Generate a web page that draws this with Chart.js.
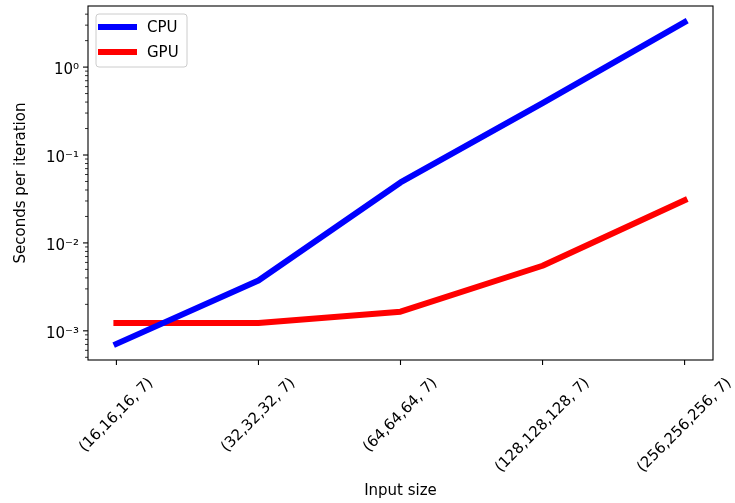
<!DOCTYPE html>
<html>
<head>
<meta charset="utf-8">
<script src="https://cdn.jsdelivr.net/npm/chart.js@4/dist/chart.umd.min.js"></script>
<style>
  html, body { margin: 0; padding: 0; background: #ffffff; }
  #wrap { width: 735px; height: 503px; }
</style>
</head>
<body>
<div id="wrap"><canvas id="chart" width="735" height="503"></canvas></div>
<script>
// Benchmark: seconds per iteration for each input size
const inputSizes = ['(16,16,16, 7)', '(32,32,32, 7)', '(64,64,64, 7)', '(128,128,128, 7)', '(256,256,256, 7)'];
const cpuSeconds = [7.1e-4, 3.73e-3, 0.0487, 0.39, 3.25];
const gpuSeconds = [1.23e-3, 1.23e-3, 1.65e-3, 5.5e-3, 0.0305];
const yTickValues = [1e-3, 1e-2, 1e-1, 1];
const yTickLabels = ['10⁻³', '10⁻²', '10⁻¹', '10⁰'];

const FONT = "'DejaVu Sans', sans-serif";
const FONT_SIZE = 15;

// 5% padding in log space around the data, like a default log axis
const allVals = cpuSeconds.concat(gpuSeconds).map(v => Math.log10(v));
const lo = Math.min(...allVals), hi = Math.max(...allVals);
const pad = (hi - lo) * 0.05;
const yMin = Math.pow(10, lo - pad);
const yMax = Math.pow(10, hi + pad);

function toPoints(values) {
  return values.map((v, i) => ({ x: i, y: v }));
}

function strokeLine(ctx, x1, y1, x2, y2) {
  ctx.beginPath();
  ctx.moveTo(x1, y1);
  ctx.lineTo(x2, y2);
  ctx.stroke();
}

// Frame, tick marks, rotated category labels and the legend box
const axesDecor = {
  id: 'axesDecor',
  afterDraw(chart) {
    const { ctx, chartArea: a, scales } = chart;
    const xs = scales.x, ys = scales.y;
    ctx.save();
    ctx.strokeStyle = '#000';

    // major ticks
    ctx.lineWidth = 1.1;
    inputSizes.forEach((_, i) => {
      const px = xs.getPixelForValue(i);
      strokeLine(ctx, px, a.bottom, px, a.bottom + 5);
    });
    yTickValues.forEach(v => {
      const py = ys.getPixelForValue(v);
      strokeLine(ctx, a.left - 5, py, a.left, py);
    });

    // minor ticks on the log axis
    ctx.lineWidth = 0.8;
    for (let d = -6; d <= 2; d++) {
      for (let k = 2; k <= 9; k++) {
        const v = k * Math.pow(10, d);
        if (v < ys.min || v > ys.max) continue;
        const py = ys.getPixelForValue(v);
        strokeLine(ctx, a.left - 3, py, a.left, py);
      }
    }

    // axes frame
    ctx.lineWidth = 1.1;
    ctx.strokeRect(a.left, a.top, a.right - a.left, a.bottom - a.top);

    // rotated category labels, bounding box centred under each tick
    ctx.font = FONT_SIZE + 'px ' + FONT;
    ctx.fillStyle = '#000';
    ctx.textAlign = 'center';
    ctx.textBaseline = 'middle';
    inputSizes.forEach((label, i) => {
      const px = xs.getPixelForValue(i);
      const w = ctx.measureText(label).width;
      const half = Math.SQRT1_2 * (w + 13.4) / 2;
      ctx.save();
      ctx.translate(px, a.bottom + 16 + half);
      ctx.rotate(-Math.PI / 4);
      ctx.fillText(label, 0, 0);
      ctx.restore();
    });

    // legend
    const lx = a.left + 8, ly = a.top + 8, lw = 91, lh = 53;
    ctx.beginPath();
    ctx.roundRect(lx, ly, lw, lh, 3);
    ctx.fillStyle = 'rgba(255,255,255,0.8)';
    ctx.fill();
    ctx.strokeStyle = '#cccccc';
    ctx.lineWidth = 1;
    ctx.stroke();
    ctx.textAlign = 'left';
    chart.data.datasets.forEach((ds, i) => {
      const ry = ly + 13 + i * 25;
      ctx.strokeStyle = ds.borderColor;
      ctx.lineWidth = ds.borderWidth;
      ctx.lineCap = 'butt';
      strokeLine(ctx, lx + 2, ry, lx + 41, ry);
      ctx.fillStyle = '#000';
      ctx.fillText(ds.label, lx + 51, ry + 1);
    });
    ctx.restore();
  }
};

new Chart(document.getElementById('chart'), {
  type: 'line',
  data: {
    datasets: [
      { label: 'CPU', data: toPoints(cpuSeconds), borderColor: '#0000ff', borderWidth: 6 },
      { label: 'GPU', data: toPoints(gpuSeconds), borderColor: '#ff0000', borderWidth: 6 }
    ]
  },
  options: {
    responsive: false,
    animation: false,
    devicePixelRatio: 1,
    layout: { padding: { left: 0, right: 22, top: 6, bottom: 0 } },
    elements: {
      point: { radius: 0, hoverRadius: 0 },
      line: { tension: 0, borderCapStyle: 'square', borderJoinStyle: 'round', fill: false }
    },
    plugins: { legend: { display: false }, tooltip: { enabled: false } },
    scales: {
      x: {
        type: 'linear',
        min: -0.2,
        max: 4.2,
        grid: { display: false, drawTicks: false },
        border: { display: false },
        ticks: { display: false },
        title: {
          display: true,
          text: 'Input size',
          color: '#000',
          font: { family: FONT, size: FONT_SIZE },
          padding: { top: 0, bottom: 3 }
        },
        afterFit(scale) {
          scale.height = 143;
          scale.paddingLeft = 0;
          scale.paddingRight = 0;
        }
      },
      y: {
        type: 'logarithmic',
        min: yMin,
        max: yMax,
        grid: { display: false, drawTicks: false },
        border: { display: false },
        afterBuildTicks(scale) {
          scale.ticks = yTickValues.map(v => ({ value: v, major: true }));
        },
        ticks: {
          autoSkip: false,
          padding: 9,
          labelOffset: 3,
          color: '#000',
          font: { family: FONT, size: FONT_SIZE },
          callback(value) {
            const idx = yTickValues.indexOf(value);
            return idx >= 0 ? yTickLabels[idx] : '';
          }
        },
        title: {
          display: true,
          text: 'Seconds per iteration',
          color: '#000',
          font: { family: FONT, size: FONT_SIZE },
          padding: { top: 12, bottom: 0 }
        },
        afterFit(scale) {
          scale.width = 88;
          scale.paddingTop = 0;
          scale.paddingBottom = 0;
        }
      }
    }
  },
  plugins: [axesDecor]
});
</script>
</body>
</html>
